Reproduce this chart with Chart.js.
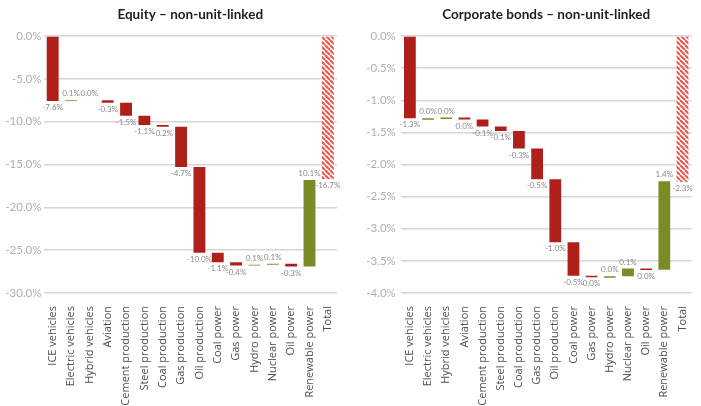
<!DOCTYPE html>
<html>
<head>
<meta charset="utf-8">
<script src="https://cdn.jsdelivr.net/npm/chart.js@4/dist/chart.umd.min.js"></script>
<style>
  html, body { margin: 0; padding: 0; background: #fff; }
  #wrap { position: relative; width: 701px; height: 406px; overflow: hidden; }
  #equity { position: absolute; left: 0; top: 0; }
  #bonds { position: absolute; left: 350px; top: 0; }
</style>
</head>
<body>
<div id="wrap">
  <canvas id="equity" width="350" height="406"></canvas>
  <canvas id="bonds" width="351" height="406"></canvas>
</div>
<script>
// Sector contributions to the shock, in percent
const sectors = ['ICE vehicles', 'Electric vehicles', 'Hybrid vehicles', 'Aviation',
  'Cement production', 'Steel production', 'Coal production', 'Gas production',
  'Oil production', 'Coal power', 'Gas power', 'Hydro power', 'Nuclear power',
  'Oil power', 'Renewable power'];
const totalLabel = 'Total';

const equityChanges = [-7.6, 0.1, 0.0, -0.3, -1.5, -1.1, -0.2, -4.7, -10.0, -1.1, -0.4, 0.1, 0.1, -0.3, 10.1];
const equityTotal = -16.7;
const equityTicks = [0, -5, -10, -15, -20, -25, -30];

const bondChanges = [-1.28, 0.00, 0.01, -0.03, -0.11, -0.07, -0.27, -0.48, -0.98, -0.52, -0.02, 0.01, 0.12, -0.02, 1.38];
const bondTotal = -2.27;
const bondTicks = [0, -0.5, -1, -1.5, -2, -2.5, -3, -3.5, -4];

const RED = '#b0201b';
const OLIVE = '#7d8a27';
const FONT = "'Open Sans', Lato, sans-serif";

Chart.defaults.font.family = FONT;
Chart.defaults.animation = false;

function hatchPattern() {
  const s = 5;
  const c = document.createElement('canvas');
  c.width = s; c.height = s;
  const g = c.getContext('2d');
  g.fillStyle = '#ffffff';
  g.fillRect(0, 0, s, s);
  g.strokeStyle = '#e8554c';
  g.lineWidth = 2;
  g.beginPath();
  for (let k = -1; k <= 1; k++) {
    g.moveTo(k * s, 0);
    g.lineTo(k * s + s, s);
  }
  g.stroke();
  return g.createPattern(c, 'repeat');
}

function pct(v) {
  const r = Math.round(v * 10) / 10;
  return (r === 0 ? '0.0' : r.toFixed(1)) + '%';
}

// Running floating bars [start, end] plus the total bar from zero
function waterfall(changes, total) {
  let run = 0;
  const out = [];
  changes.forEach(d => { out.push([run, run + d]); run += d; });
  out.push([0, total]);
  return out;
}

const valueLabels = {
  id: 'valueLabels',
  afterDatasetsDraw(chart, args, opts) {
    const ctx = chart.ctx;
    const meta = chart.getDatasetMeta(0);
    ctx.save();
    ctx.font = "8px Lato, sans-serif";
    ctx.fillStyle = '#8a8a8a';
    ctx.textAlign = 'center';
    meta.data.forEach((bar, i) => {
      const d = opts.values[i];
      const top = Math.min(bar.y, bar.base);
      const bottom = Math.max(bar.y, bar.base);
      if (d < 0) {
        ctx.textBaseline = 'top';
        ctx.fillText(pct(d), bar.x, bottom + 2.5);
      } else {
        ctx.textBaseline = 'bottom';
        ctx.fillText(pct(d), bar.x, top - 2.5);
      }
    });
    ctx.restore();
  }
};

function makeChart(id, title, changes, total, ticks, axisWidth, tickPad, rightPad, minBar) {
  const deltas = [...changes, total];
  const hatch = hatchPattern();
  return new Chart(document.getElementById(id), {
    type: 'bar',
    data: {
      labels: [...sectors, totalLabel],
      datasets: [{
        data: waterfall(changes, total),
        backgroundColor: ctx => {
          const i = ctx.dataIndex;
          if (i === undefined) return RED;
          if (i === changes.length) return hatch;
          return deltas[i] < 0 ? RED : OLIVE;
        },
        borderWidth: 0,
        barPercentage: 0.72,
        categoryPercentage: 0.9,
        minBarLength: minBar
      }]
    },
    options: {
      responsive: false,
      animation: false,
      layout: { padding: { left: 0, right: rightPad, top: 0, bottom: 0 } },
      plugins: {
        legend: { display: false },
        tooltip: { enabled: false },
        title: {
          display: true,
          text: title,
          fullSize: false,
          color: '#1e1e1e',
          font: { family: "Lato, sans-serif", size: 13.5, weight: 'bold' },
          padding: { top: 7, bottom: 12.8 }
        },
        valueLabels: { values: deltas }
      },
      scales: {
        x: {
          grid: { display: false },
          border: { display: false },
          ticks: {
            autoSkip: false,
            minRotation: 90,
            maxRotation: 90,
            padding: 5,
            color: '#505050',
            font: { size: 11 }
          },
          afterFit: s => { s.height = 113; }
        },
        y: {
          min: ticks[ticks.length - 1],
          max: ticks[0],
          grid: { color: '#d6d6d6', lineWidth: 1.5, drawTicks: false },
          border: { display: false },
          ticks: {
            padding: tickPad,
            color: '#b0b0b0',
            font: { family: "Lato, sans-serif", size: 11.5 },
            callback: v => v.toFixed(1) + '%'
          },
          afterBuildTicks: s => { s.ticks = ticks.map(v => ({ value: v })); },
          afterFit: s => { s.width = axisWidth; }
        }
      }
    },
    plugins: [valueLabels]
  });
}

makeChart('equity', 'Equity – non-unit-linked', equityChanges, equityTotal, equityTicks, 43.5, 2, 13, 0);
makeChart('bonds', 'Corporate bonds – non-unit-linked', bondChanges, bondTotal, bondTicks, 50.8, 5, 7, 1.5);
</script>
</body>
</html>
